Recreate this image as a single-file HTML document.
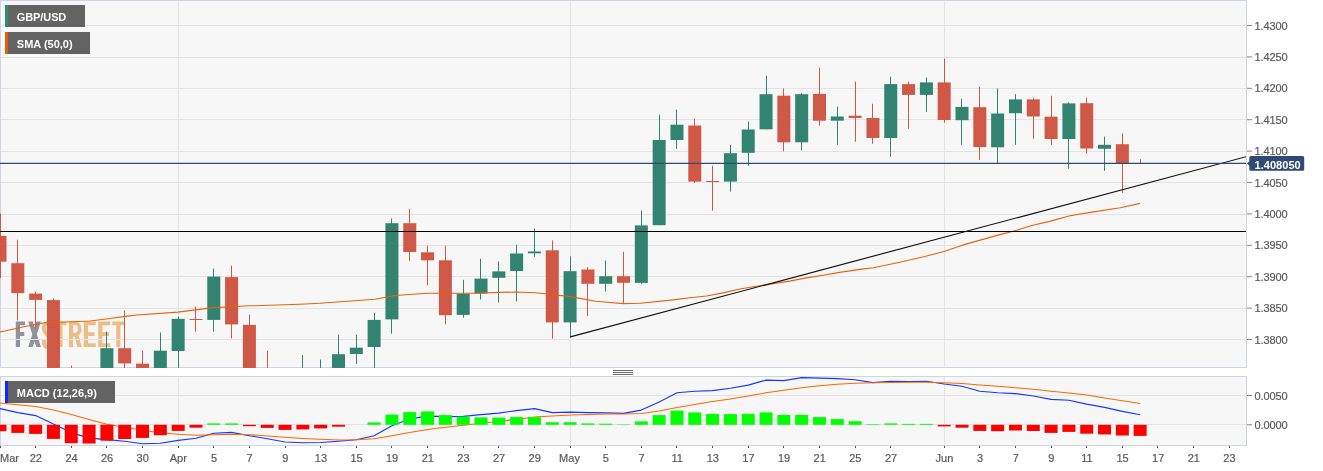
<!DOCTYPE html>
<html><head><meta charset="utf-8"><title>GBP/USD</title>
<style>html,body{margin:0;padding:0;background:#fff;}body{width:1323px;height:471px;overflow:hidden;font-family:"Liberation Sans",sans-serif;}svg{display:block;position:absolute;left:0;top:0;will-change:transform;transform:translateZ(0)}text{font-family:"Liberation Sans",sans-serif;}</style></head><body>
<svg width="1323" height="471" viewBox="0 0 1323 471">
<defs><clipPath id="cm"><rect x="0" y="1" width="1246" height="367"/></clipPath><clipPath id="cd"><rect x="0" y="377" width="1246" height="68"/></clipPath></defs>
<rect x="0" y="0" width="1323" height="471" fill="#fff"/>
<rect x="0.5" y="0.5" width="1246" height="367" fill="#f7f7f7" stroke="#cfd5e7" stroke-width="1"/>
<rect x="0.5" y="376.5" width="1246" height="69" fill="#f7f7f7" stroke="#cfd5e7" stroke-width="1"/>
<path d="M15.8 321.5H25.0V325.3H20.0V332.1H24.3V335.90000000000003H20.0V347.1H15.8ZM28.2 321.5H32.7L40.9 347.1H36.4ZM36.4 321.5H40.9L32.7 347.1H28.2Z" fill="#90929c"/>
<path d="M54.6 321.5H66.2V325.3H62.5V347.1H58.3V325.3H54.6ZM83.8 321.5H95.8V325.3H88.0V332.3H94.6V336.1H88.0V343.3H95.8V347.1H83.8ZM98.2 321.5H110.2V325.3H102.4V332.3H109.0V336.1H102.4V343.3H110.2V347.1H98.2ZM112.3 321.5H124.3V325.3H120.39999999999999V347.1H116.2V325.3H112.3Z" fill="#eebd86"/>
<path d="M50.6 330.1V327.7a3.3000000000000007 4.2 0 0 0 -6.600000000000001 0v1.6c0 4.6 6.600000000000001 6.4 6.600000000000001 11.6v1.8a3.3000000000000007 4.2 0 0 1 -6.600000000000001 0v-2.6" fill="none" stroke="#eebd86" stroke-width="4.0"/>
<path d="M68.9 321.5h4.2V347.1h-4.2Z" fill="#eebd86"/>
<path d="M71.9 323.4h3.8a3.9 5.6 0 0 1 0 11.2h-3.8" fill="none" stroke="#eebd86" stroke-width="3.8"/>
<path d="M74.10000000000001 334.7h4.3L81.80000000000001 347.1h-4.4Z" fill="#eebd86"/>
<path d="M1 25.5H1246M1 57.5H1246M1 88.5H1246M1 119.5H1246M1 151.5H1246M1 182.5H1246M1 214.5H1246M1 245.5H1246M1 276.5H1246M1 308.5H1246M1 339.5H1246M1 395.5H1246M1 424.5H1246M178.5 1V367M178.5 377V445M570.5 1V367M570.5 377V445M944.5 1V367M944.5 377V445" stroke="#e3e3e3" stroke-width="1" fill="none" shape-rendering="crispEdges"/>
<g clip-path="url(#cm)">
<rect x="0" y="213.60" width="1" height="64.40" fill="#d05847"/>
<rect x="-6.50" y="235.90" width="13" height="25.80" fill="#d05847"/>
<rect x="17" y="239.70" width="1" height="80.70" fill="#d05847"/>
<rect x="11.32" y="263.20" width="13" height="29.90" fill="#d05847"/>
<rect x="35" y="291.60" width="1" height="37.20" fill="#d05847"/>
<rect x="29.13" y="293.60" width="13" height="6.30" fill="#d05847"/>
<rect x="53" y="298.60" width="1" height="101.70" fill="#d05847"/>
<rect x="46.95" y="300.10" width="13" height="100.20" fill="#d05847"/>
<rect x="71" y="365.50" width="1" height="34.80" fill="#d05847"/>
<rect x="64.76" y="380.30" width="13" height="20.00" fill="#d05847"/>
<rect x="106" y="331.70" width="1" height="68.60" fill="#32836f"/>
<rect x="100.39" y="348.20" width="13" height="52.10" fill="#32836f"/>
<rect x="124" y="310.40" width="1" height="89.90" fill="#d05847"/>
<rect x="118.21" y="348.20" width="13" height="15.20" fill="#d05847"/>
<rect x="142" y="350.70" width="1" height="49.60" fill="#d05847"/>
<rect x="136.02" y="363.70" width="13" height="36.60" fill="#d05847"/>
<rect x="160" y="332.40" width="1" height="67.90" fill="#32836f"/>
<rect x="153.84" y="350.70" width="13" height="49.60" fill="#32836f"/>
<rect x="178" y="316.70" width="1" height="83.60" fill="#32836f"/>
<rect x="171.65" y="318.90" width="13" height="32.10" fill="#32836f"/>
<rect x="195" y="306.60" width="1" height="25.10" fill="#d05847"/>
<rect x="189.47" y="319.00" width="13" height="1.00" fill="#d05847"/>
<rect x="213" y="268.50" width="1" height="63.20" fill="#32836f"/>
<rect x="207.28" y="276.60" width="13" height="43.30" fill="#32836f"/>
<rect x="231" y="265.50" width="1" height="73.00" fill="#d05847"/>
<rect x="225.10" y="277.10" width="13" height="47.30" fill="#d05847"/>
<rect x="249" y="314.60" width="1" height="85.70" fill="#d05847"/>
<rect x="242.91" y="324.90" width="13" height="75.40" fill="#d05847"/>
<rect x="267" y="350.70" width="1" height="49.60" fill="#d05847"/>
<rect x="260.73" y="380.30" width="13" height="20.00" fill="#d05847"/>
<rect x="302" y="355.00" width="1" height="45.30" fill="#32836f"/>
<rect x="296.36" y="380.30" width="13" height="20.00" fill="#32836f"/>
<rect x="320" y="359.50" width="1" height="40.80" fill="#32836f"/>
<rect x="314.17" y="380.30" width="13" height="20.00" fill="#32836f"/>
<rect x="338" y="334.70" width="1" height="65.60" fill="#32836f"/>
<rect x="331.99" y="354.20" width="13" height="46.10" fill="#32836f"/>
<rect x="356" y="334.70" width="1" height="29.10" fill="#32836f"/>
<rect x="349.80" y="347.70" width="13" height="6.30" fill="#32836f"/>
<rect x="374" y="312.90" width="1" height="87.40" fill="#32836f"/>
<rect x="367.62" y="319.90" width="13" height="27.10" fill="#32836f"/>
<rect x="391" y="218.40" width="1" height="115.30" fill="#32836f"/>
<rect x="385.43" y="223.20" width="13" height="96.20" fill="#32836f"/>
<rect x="409" y="208.70" width="1" height="52.10" fill="#d05847"/>
<rect x="403.25" y="223.20" width="13" height="28.80" fill="#d05847"/>
<rect x="427" y="245.70" width="1" height="39.60" fill="#d05847"/>
<rect x="421.06" y="252.30" width="13" height="8.00" fill="#d05847"/>
<rect x="445" y="245.70" width="1" height="78.70" fill="#d05847"/>
<rect x="438.88" y="260.30" width="13" height="54.90" fill="#d05847"/>
<rect x="463" y="279.80" width="1" height="37.90" fill="#32836f"/>
<rect x="456.69" y="293.90" width="13" height="21.00" fill="#32836f"/>
<rect x="480" y="258.80" width="1" height="40.80" fill="#32836f"/>
<rect x="474.51" y="278.60" width="13" height="15.00" fill="#32836f"/>
<rect x="498" y="261.50" width="1" height="41.10" fill="#32836f"/>
<rect x="492.32" y="271.40" width="13" height="6.40" fill="#32836f"/>
<rect x="516" y="244.70" width="1" height="56.90" fill="#32836f"/>
<rect x="510.13" y="253.50" width="13" height="17.55" fill="#32836f"/>
<rect x="534" y="228.50" width="1" height="28.30" fill="#32836f"/>
<rect x="527.95" y="251.50" width="13" height="1.80" fill="#32836f"/>
<rect x="552" y="240.50" width="1" height="98.20" fill="#d05847"/>
<rect x="545.76" y="250.30" width="13" height="72.10" fill="#d05847"/>
<rect x="570" y="256.30" width="1" height="81.20" fill="#32836f"/>
<rect x="563.58" y="271.20" width="13" height="51.20" fill="#32836f"/>
<rect x="587" y="267.30" width="1" height="48.60" fill="#d05847"/>
<rect x="581.40" y="269.50" width="13" height="14.30" fill="#d05847"/>
<rect x="605" y="260.50" width="1" height="31.10" fill="#32836f"/>
<rect x="599.21" y="276.20" width="13" height="7.60" fill="#32836f"/>
<rect x="623" y="251.80" width="1" height="51.80" fill="#d05847"/>
<rect x="617.03" y="276.20" width="13" height="6.60" fill="#d05847"/>
<rect x="641" y="210.50" width="1" height="73.40" fill="#32836f"/>
<rect x="634.84" y="225.40" width="13" height="57.50" fill="#32836f"/>
<rect x="659" y="114.70" width="1" height="110.50" fill="#32836f"/>
<rect x="652.66" y="140.00" width="13" height="85.20" fill="#32836f"/>
<rect x="676" y="109.70" width="1" height="39.10" fill="#32836f"/>
<rect x="670.47" y="124.70" width="13" height="15.30" fill="#32836f"/>
<rect x="694" y="118.70" width="1" height="64.20" fill="#d05847"/>
<rect x="688.29" y="125.50" width="13" height="56.10" fill="#d05847"/>
<rect x="712" y="165.80" width="1" height="44.90" fill="#d05847"/>
<rect x="706.10" y="181.00" width="13" height="1.00" fill="#d05847"/>
<rect x="730" y="144.80" width="1" height="46.80" fill="#32836f"/>
<rect x="723.92" y="153.20" width="13" height="28.40" fill="#32836f"/>
<rect x="748" y="121.70" width="1" height="44.10" fill="#32836f"/>
<rect x="741.73" y="129.50" width="13" height="23.30" fill="#32836f"/>
<rect x="766" y="75.60" width="1" height="53.70" fill="#32836f"/>
<rect x="759.55" y="94.20" width="13" height="35.10" fill="#32836f"/>
<rect x="783" y="88.40" width="1" height="62.90" fill="#d05847"/>
<rect x="777.36" y="95.70" width="13" height="46.60" fill="#d05847"/>
<rect x="801" y="93.20" width="1" height="57.30" fill="#32836f"/>
<rect x="795.18" y="94.20" width="13" height="48.10" fill="#32836f"/>
<rect x="819" y="67.60" width="1" height="58.10" fill="#d05847"/>
<rect x="812.99" y="93.90" width="13" height="26.80" fill="#d05847"/>
<rect x="837" y="106.70" width="1" height="38.10" fill="#32836f"/>
<rect x="830.81" y="116.50" width="13" height="4.20" fill="#32836f"/>
<rect x="855" y="81.60" width="1" height="60.20" fill="#d05847"/>
<rect x="848.62" y="115.70" width="13" height="2.30" fill="#d05847"/>
<rect x="872" y="103.70" width="1" height="40.10" fill="#d05847"/>
<rect x="866.44" y="118.00" width="13" height="20.00" fill="#d05847"/>
<rect x="890" y="76.60" width="1" height="80.10" fill="#32836f"/>
<rect x="884.25" y="84.10" width="13" height="53.90" fill="#32836f"/>
<rect x="908" y="81.60" width="1" height="47.10" fill="#d05847"/>
<rect x="902.07" y="84.10" width="13" height="10.80" fill="#d05847"/>
<rect x="926" y="77.60" width="1" height="34.40" fill="#32836f"/>
<rect x="919.88" y="82.40" width="13" height="12.50" fill="#32836f"/>
<rect x="944" y="58.60" width="1" height="64.10" fill="#d05847"/>
<rect x="937.70" y="82.40" width="13" height="37.60" fill="#d05847"/>
<rect x="961" y="98.70" width="1" height="46.10" fill="#32836f"/>
<rect x="955.51" y="106.90" width="13" height="13.30" fill="#32836f"/>
<rect x="979" y="86.70" width="1" height="73.20" fill="#d05847"/>
<rect x="973.33" y="107.20" width="13" height="39.80" fill="#d05847"/>
<rect x="997" y="88.40" width="1" height="74.50" fill="#32836f"/>
<rect x="991.14" y="113.50" width="13" height="33.80" fill="#32836f"/>
<rect x="1015" y="94.20" width="1" height="50.60" fill="#32836f"/>
<rect x="1008.96" y="99.40" width="13" height="13.80" fill="#32836f"/>
<rect x="1033" y="98.20" width="1" height="40.60" fill="#d05847"/>
<rect x="1026.77" y="99.40" width="13" height="17.10" fill="#d05847"/>
<rect x="1051" y="95.70" width="1" height="49.10" fill="#d05847"/>
<rect x="1044.59" y="116.70" width="13" height="22.30" fill="#d05847"/>
<rect x="1068" y="102.20" width="1" height="66.40" fill="#32836f"/>
<rect x="1062.40" y="103.40" width="13" height="35.60" fill="#32836f"/>
<rect x="1086" y="97.70" width="1" height="56.00" fill="#d05847"/>
<rect x="1080.22" y="103.20" width="13" height="45.30" fill="#d05847"/>
<rect x="1104" y="136.60" width="1" height="34.30" fill="#32836f"/>
<rect x="1098.03" y="144.80" width="13" height="4.00" fill="#32836f"/>
<rect x="1122" y="133.60" width="1" height="59.40" fill="#d05847"/>
<rect x="1115.85" y="144.20" width="13" height="19.20" fill="#d05847"/>
<rect x="1140" y="159.30" width="1" height="4.20" fill="#d05847"/>
<rect x="1133.66" y="163.10" width="13" height="0.50" fill="#d05847"/>
<polyline fill="none" stroke="#e8620c" stroke-width="1.1" stroke-linejoin="round" points="0,331.9 5,331 25,326.5 45,322.8 65,322 90,321 110,318.5 125,316.4 137,315 178,312.1 213,307.6 250,305.8 300,304.3 320,303.3 375,299.3 395,295.5 427.7,293.3 470,293.3 515.4,292 535.5,292.8 570.6,296.6 595.6,301.3 623.2,303.6 640,303.2 673.3,299.9 690,297.8 706.5,296 723,292.9 739.8,289 756.4,286.2 773,283.6 789.7,281.1 806.3,277.9 822.9,275.3 839.5,272.4 860,269.4 873.3,267.7 899.9,262.3 924.8,256.5 944.8,251.2 963.1,244.9 983,239.4 999.7,234.6 1012.1,231.5 1032.9,225.2 1049.5,221.4 1070,215.8 1090.3,212.4 1120.4,207.7 1140,203.4"/>
<path d="M0 231.5H1246" stroke="#000" stroke-width="1.15" fill="none"/>
<path d="M570.3 336.9L1246.5 156.6" stroke="#111" stroke-width="1.15" fill="none"/>
<path d="M0 163.4H1247" stroke="#2f4b73" stroke-width="1.2" fill="none"/>
</g>
<g clip-path="url(#cd)">
<polyline fill="none" stroke="#1636ff" stroke-width="1.1" stroke-linejoin="round" points="0.0,408.6 17.8,412.6 35.6,415.6 53.4,423.9 71.3,432.6 89.1,438.1 106.9,439.6 124.7,441.3 142.5,443.7 160.3,443.2 178.2,440.4 196.0,438.2 213.8,433.2 231.6,432.4 249.4,435.7 267.2,438.7 285.0,442 302.9,442.7 320.7,442.5 338.5,441.2 356.3,439.7 374.1,435.7 391.9,425.7 409.7,418.9 427.6,416.1 445.4,416.6 463.2,416.4 481.0,414.6 498.8,413.1 516.6,410.6 534.5,408.6 552.3,412.6 570.1,412.1 587.9,412.6 605.7,412.9 623.5,413.4 641.3,410.1 659.2,401.9 677.0,392.8 694.8,391.3 712.6,390.6 730.4,388.3 748.2,385.1 766.0,380.1 783.9,380.6 801.7,377.6 819.5,378.1 837.3,378.6 855.1,379.8 872.9,382.6 890.8,381.3 908.6,381.6 926.4,381.2 944.2,384 962.0,386.3 979.8,391.3 997.6,392.8 1015.5,393.6 1033.3,396 1051.1,399.4 1068.9,400.3 1086.7,404.1 1104.5,407.4 1122.3,411.4 1140.2,414.7"/>
<polyline fill="none" stroke="#ff6600" stroke-width="1.05" stroke-linejoin="round" points="0.0,402.9 17.8,404.7 35.6,406.6 53.4,410.1 71.3,414.6 89.1,419.6 106.9,424.2 124.7,427.2 142.5,430.2 160.3,432.7 178.2,434.2 196.0,435.2 213.8,434.7 231.6,434.2 249.4,434.7 267.2,435.9 285.0,437.2 302.9,438.4 320.7,439.2 338.5,439.9 356.3,439.7 374.1,438.7 391.9,435.7 409.7,432.4 427.6,429.4 445.4,427.2 463.2,425.2 481.0,423.2 498.8,421.4 516.6,419.4 534.5,417.1 552.3,416.1 570.1,415.1 587.9,414.6 605.7,414.1 623.5,413.9 641.3,413.4 659.2,411.1 677.0,407.4 694.8,404.4 712.6,401.6 730.4,398.9 748.2,396.1 766.0,392.8 783.9,390.3 801.7,387.8 819.5,385.8 837.3,384.3 855.1,383.3 872.9,382.8 890.8,382.6 908.6,382.3 926.4,382.2 944.2,382.8 962.0,383.5 979.8,385 997.6,386.3 1015.5,387.7 1033.3,389.3 1051.1,391.2 1068.9,392.9 1086.7,395.1 1104.5,397.9 1122.3,400.7 1140.2,403.4"/>
<rect x="-6.50" y="424.8" width="13" height="6.40" fill="#ff0000"/>
<rect x="11.32" y="424.8" width="13" height="8.10" fill="#ff0000"/>
<rect x="29.13" y="424.8" width="13" height="9.10" fill="#ff0000"/>
<rect x="46.95" y="424.8" width="13" height="14.10" fill="#ff0000"/>
<rect x="64.76" y="424.8" width="13" height="18.40" fill="#ff0000"/>
<rect x="82.58" y="424.8" width="13" height="18.70" fill="#ff0000"/>
<rect x="100.39" y="424.8" width="13" height="15.90" fill="#ff0000"/>
<rect x="118.21" y="424.8" width="13" height="14.20" fill="#ff0000"/>
<rect x="136.02" y="424.8" width="13" height="13.10" fill="#ff0000"/>
<rect x="153.84" y="424.8" width="13" height="10.40" fill="#ff0000"/>
<rect x="171.65" y="424.8" width="13" height="6.10" fill="#ff0000"/>
<rect x="189.47" y="424.8" width="13" height="2.90" fill="#ff0000"/>
<rect x="207.28" y="423.4" width="13" height="1.40" fill="#00ff00"/>
<rect x="225.10" y="423.4" width="13" height="1.40" fill="#00ff00"/>
<rect x="242.91" y="424.8" width="13" height="1.40" fill="#ff0000"/>
<rect x="260.73" y="424.8" width="13" height="3.10" fill="#ff0000"/>
<rect x="278.54" y="424.8" width="13" height="5.10" fill="#ff0000"/>
<rect x="296.36" y="424.8" width="13" height="4.60" fill="#ff0000"/>
<rect x="314.17" y="424.8" width="13" height="3.60" fill="#ff0000"/>
<rect x="331.99" y="424.8" width="13" height="1.90" fill="#ff0000"/>
<rect x="367.62" y="422.4" width="13" height="2.40" fill="#00ff00"/>
<rect x="385.43" y="414.6" width="13" height="10.20" fill="#00ff00"/>
<rect x="403.25" y="412.1" width="13" height="12.70" fill="#00ff00"/>
<rect x="421.06" y="411.4" width="13" height="13.40" fill="#00ff00"/>
<rect x="438.88" y="415.1" width="13" height="9.70" fill="#00ff00"/>
<rect x="456.69" y="416.6" width="13" height="8.20" fill="#00ff00"/>
<rect x="474.51" y="417.4" width="13" height="7.40" fill="#00ff00"/>
<rect x="492.32" y="417.6" width="13" height="7.20" fill="#00ff00"/>
<rect x="510.13" y="417.1" width="13" height="7.70" fill="#00ff00"/>
<rect x="527.95" y="417.1" width="13" height="7.70" fill="#00ff00"/>
<rect x="545.76" y="422.2" width="13" height="2.60" fill="#00ff00"/>
<rect x="563.58" y="422.2" width="13" height="2.60" fill="#00ff00"/>
<rect x="581.40" y="423.4" width="13" height="1.40" fill="#00ff00"/>
<rect x="599.21" y="423.7" width="13" height="1.10" fill="#00ff00"/>
<rect x="617.03" y="424.4" width="13" height="0.40" fill="#00ff00"/>
<rect x="634.84" y="421.4" width="13" height="3.40" fill="#00ff00"/>
<rect x="652.66" y="415.1" width="13" height="9.70" fill="#00ff00"/>
<rect x="670.47" y="410.6" width="13" height="14.20" fill="#00ff00"/>
<rect x="688.29" y="412.4" width="13" height="12.40" fill="#00ff00"/>
<rect x="706.10" y="413.9" width="13" height="10.90" fill="#00ff00"/>
<rect x="723.92" y="414.1" width="13" height="10.70" fill="#00ff00"/>
<rect x="741.73" y="413.9" width="13" height="10.90" fill="#00ff00"/>
<rect x="759.55" y="412.4" width="13" height="12.40" fill="#00ff00"/>
<rect x="777.36" y="414.9" width="13" height="9.90" fill="#00ff00"/>
<rect x="795.18" y="414.9" width="13" height="9.90" fill="#00ff00"/>
<rect x="812.99" y="417.1" width="13" height="7.70" fill="#00ff00"/>
<rect x="830.81" y="419.1" width="13" height="5.70" fill="#00ff00"/>
<rect x="848.62" y="421.2" width="13" height="3.60" fill="#00ff00"/>
<rect x="866.44" y="424.2" width="13" height="0.60" fill="#00ff00"/>
<rect x="884.25" y="423.4" width="13" height="1.40" fill="#00ff00"/>
<rect x="902.07" y="423.9" width="13" height="0.90" fill="#00ff00"/>
<rect x="919.88" y="423.9" width="13" height="0.90" fill="#00ff00"/>
<rect x="937.70" y="424.8" width="13" height="1.60" fill="#ff0000"/>
<rect x="955.51" y="424.8" width="13" height="2.90" fill="#ff0000"/>
<rect x="973.33" y="424.8" width="13" height="6.10" fill="#ff0000"/>
<rect x="991.14" y="424.8" width="13" height="6.40" fill="#ff0000"/>
<rect x="1008.96" y="424.8" width="13" height="5.70" fill="#ff0000"/>
<rect x="1026.77" y="424.8" width="13" height="6.20" fill="#ff0000"/>
<rect x="1044.59" y="424.8" width="13" height="8.10" fill="#ff0000"/>
<rect x="1062.40" y="424.8" width="13" height="7.10" fill="#ff0000"/>
<rect x="1080.22" y="424.8" width="13" height="8.90" fill="#ff0000"/>
<rect x="1098.03" y="424.8" width="13" height="9.60" fill="#ff0000"/>
<rect x="1115.85" y="424.8" width="13" height="10.70" fill="#ff0000"/>
<rect x="1133.66" y="424.8" width="13" height="11.10" fill="#ff0000"/>
</g>
<path d="M613 370.5H633M613 372.5H633M613 374.5H633" stroke="#666" stroke-width="1" fill="none" shape-rendering="crispEdges"/>
<path d="M1247 25.50H1252M1247 56.90H1252M1247 88.30H1252M1247 119.70H1252M1247 151.10H1252M1247 182.50H1252M1247 213.90H1252M1247 245.30H1252M1247 276.70H1252M1247 308.10H1252M1247 339.50H1252M1247 395.50H1252M1247 424.75H1252" stroke="#858585" stroke-width="1" fill="none"/>
<text x="1254.4" y="30" font-size="11" letter-spacing="-0.09" fill="#5a5a5a" stroke="#5a5a5a" stroke-width="0.2">1.4300</text>
<text x="1254.4" y="61" font-size="11" letter-spacing="-0.09" fill="#5a5a5a" stroke="#5a5a5a" stroke-width="0.2">1.4250</text>
<text x="1254.4" y="92" font-size="11" letter-spacing="-0.09" fill="#5a5a5a" stroke="#5a5a5a" stroke-width="0.2">1.4200</text>
<text x="1254.4" y="124" font-size="11" letter-spacing="-0.09" fill="#5a5a5a" stroke="#5a5a5a" stroke-width="0.2">1.4150</text>
<text x="1254.4" y="155" font-size="11" letter-spacing="-0.09" fill="#5a5a5a" stroke="#5a5a5a" stroke-width="0.2">1.4100</text>
<text x="1254.4" y="187" font-size="11" letter-spacing="-0.09" fill="#5a5a5a" stroke="#5a5a5a" stroke-width="0.2">1.4050</text>
<text x="1254.4" y="218" font-size="11" letter-spacing="-0.09" fill="#5a5a5a" stroke="#5a5a5a" stroke-width="0.2">1.4000</text>
<text x="1254.4" y="249" font-size="11" letter-spacing="-0.09" fill="#5a5a5a" stroke="#5a5a5a" stroke-width="0.2">1.3950</text>
<text x="1254.4" y="281" font-size="11" letter-spacing="-0.09" fill="#5a5a5a" stroke="#5a5a5a" stroke-width="0.2">1.3900</text>
<text x="1254.4" y="312" font-size="11" letter-spacing="-0.09" fill="#5a5a5a" stroke="#5a5a5a" stroke-width="0.2">1.3850</text>
<text x="1254.4" y="344" font-size="11" letter-spacing="-0.09" fill="#5a5a5a" stroke="#5a5a5a" stroke-width="0.2">1.3800</text>
<text x="1254.4" y="400" font-size="11" letter-spacing="-0.09" fill="#5a5a5a" stroke="#5a5a5a" stroke-width="0.2">0.0050</text>
<text x="1254.4" y="429" font-size="11" letter-spacing="-0.09" fill="#5a5a5a" stroke="#5a5a5a" stroke-width="0.2">0.0000</text>
<path d="M1247 163.4L1249.3 161.3V157.5q0-1.5 1.5-1.5H1302.7q1.5 0 1.5 1.5V169.3q0 1.5-1.5 1.5H1250.8q-1.5 0-1.5-1.5V165.5Z" fill="#2f4b73"/>
<text x="1254.5" y="169" font-size="11" font-weight="bold" letter-spacing="0.05" fill="#fff">1.408050</text>
<path d="M0.5 446V448M35.5 446V448M71.5 446V448M106.5 446V448M142.5 446V448M178.5 446V448M213.5 446V448M249.5 446V448M285.5 446V448M320.5 446V448M356.5 446V448M391.5 446V448M427.5 446V448M463.5 446V448M498.5 446V448M534.5 446V448M570.5 446V448M605.5 446V448M641.5 446V448M676.5 446V448M712.5 446V448M748.5 446V448M783.5 446V448M819.5 446V448M855.5 446V448M890.5 446V448M944.5 446V448M979.5 446V448M1015.5 446V448M1051.5 446V448M1086.5 446V448M1122.5 446V448M1157.5 446V448M1193.5 446V448M1229.5 446V448" stroke="#555" stroke-width="1" fill="none" shape-rendering="crispEdges"/>
<text x="0" y="462" font-size="11" fill="#5a5a5a" stroke="#5a5a5a" stroke-width="0.2">Mar</text>
<text x="35.8" y="462" font-size="11" fill="#5a5a5a" stroke="#5a5a5a" stroke-width="0.2" text-anchor="middle">22</text>
<text x="71.5" y="462" font-size="11" fill="#5a5a5a" stroke="#5a5a5a" stroke-width="0.2" text-anchor="middle">24</text>
<text x="107.1" y="462" font-size="11" fill="#5a5a5a" stroke="#5a5a5a" stroke-width="0.2" text-anchor="middle">26</text>
<text x="142.7" y="462" font-size="11" fill="#5a5a5a" stroke="#5a5a5a" stroke-width="0.2" text-anchor="middle">30</text>
<text x="178.3" y="462" font-size="11" fill="#5a5a5a" stroke="#5a5a5a" stroke-width="0.2" text-anchor="middle">Apr</text>
<text x="214.0" y="462" font-size="11" fill="#5a5a5a" stroke="#5a5a5a" stroke-width="0.2" text-anchor="middle">5</text>
<text x="249.6" y="462" font-size="11" fill="#5a5a5a" stroke="#5a5a5a" stroke-width="0.2" text-anchor="middle">7</text>
<text x="285.2" y="462" font-size="11" fill="#5a5a5a" stroke="#5a5a5a" stroke-width="0.2" text-anchor="middle">9</text>
<text x="320.9" y="462" font-size="11" fill="#5a5a5a" stroke="#5a5a5a" stroke-width="0.2" text-anchor="middle">13</text>
<text x="356.5" y="462" font-size="11" fill="#5a5a5a" stroke="#5a5a5a" stroke-width="0.2" text-anchor="middle">15</text>
<text x="392.1" y="462" font-size="11" fill="#5a5a5a" stroke="#5a5a5a" stroke-width="0.2" text-anchor="middle">19</text>
<text x="427.8" y="462" font-size="11" fill="#5a5a5a" stroke="#5a5a5a" stroke-width="0.2" text-anchor="middle">21</text>
<text x="463.4" y="462" font-size="11" fill="#5a5a5a" stroke="#5a5a5a" stroke-width="0.2" text-anchor="middle">23</text>
<text x="499.0" y="462" font-size="11" fill="#5a5a5a" stroke="#5a5a5a" stroke-width="0.2" text-anchor="middle">27</text>
<text x="534.7" y="462" font-size="11" fill="#5a5a5a" stroke="#5a5a5a" stroke-width="0.2" text-anchor="middle">29</text>
<text x="569.5" y="462" font-size="11" fill="#5a5a5a" stroke="#5a5a5a" stroke-width="0.2" text-anchor="middle">May</text>
<text x="605.9" y="462" font-size="11" fill="#5a5a5a" stroke="#5a5a5a" stroke-width="0.2" text-anchor="middle">5</text>
<text x="641.5" y="462" font-size="11" fill="#5a5a5a" stroke="#5a5a5a" stroke-width="0.2" text-anchor="middle">7</text>
<text x="677.2" y="462" font-size="11" fill="#5a5a5a" stroke="#5a5a5a" stroke-width="0.2" text-anchor="middle">11</text>
<text x="712.8" y="462" font-size="11" fill="#5a5a5a" stroke="#5a5a5a" stroke-width="0.2" text-anchor="middle">13</text>
<text x="748.4" y="462" font-size="11" fill="#5a5a5a" stroke="#5a5a5a" stroke-width="0.2" text-anchor="middle">17</text>
<text x="784.1" y="462" font-size="11" fill="#5a5a5a" stroke="#5a5a5a" stroke-width="0.2" text-anchor="middle">19</text>
<text x="819.7" y="462" font-size="11" fill="#5a5a5a" stroke="#5a5a5a" stroke-width="0.2" text-anchor="middle">21</text>
<text x="855.3" y="462" font-size="11" fill="#5a5a5a" stroke="#5a5a5a" stroke-width="0.2" text-anchor="middle">25</text>
<text x="891.0" y="462" font-size="11" fill="#5a5a5a" stroke="#5a5a5a" stroke-width="0.2" text-anchor="middle">27</text>
<text x="944.4" y="462" font-size="11" fill="#5a5a5a" stroke="#5a5a5a" stroke-width="0.2" text-anchor="middle">Jun</text>
<text x="980.0" y="462" font-size="11" fill="#5a5a5a" stroke="#5a5a5a" stroke-width="0.2" text-anchor="middle">3</text>
<text x="1015.7" y="462" font-size="11" fill="#5a5a5a" stroke="#5a5a5a" stroke-width="0.2" text-anchor="middle">7</text>
<text x="1051.3" y="462" font-size="11" fill="#5a5a5a" stroke="#5a5a5a" stroke-width="0.2" text-anchor="middle">9</text>
<text x="1086.9" y="462" font-size="11" fill="#5a5a5a" stroke="#5a5a5a" stroke-width="0.2" text-anchor="middle">11</text>
<text x="1122.5" y="462" font-size="11" fill="#5a5a5a" stroke="#5a5a5a" stroke-width="0.2" text-anchor="middle">15</text>
<text x="1158.2" y="462" font-size="11" fill="#5a5a5a" stroke="#5a5a5a" stroke-width="0.2" text-anchor="middle">17</text>
<text x="1193.8" y="462" font-size="11" fill="#5a5a5a" stroke="#5a5a5a" stroke-width="0.2" text-anchor="middle">21</text>
<text x="1229.4" y="462" font-size="11" fill="#5a5a5a" stroke="#5a5a5a" stroke-width="0.2" text-anchor="middle">23</text>
<rect x="5" y="5" width="80" height="22" fill="#636363"/>
<rect x="5" y="5" width="3" height="22" fill="#2e8b75"/>
<text x="16.8" y="21" font-size="11" font-weight="bold" letter-spacing="-0.1" fill="#fff">GBP/USD</text>
<rect x="5" y="32" width="85" height="22" fill="#636363"/>
<rect x="5" y="32" width="3" height="22" fill="#e65c00"/>
<text x="16.8" y="48" font-size="11" font-weight="bold" letter-spacing="0" fill="#fff">SMA (50,0)</text>
<rect x="5" y="381" width="110" height="22" fill="#636363"/>
<rect x="5" y="381" width="3" height="22" fill="#0a2bff"/>
<text x="16.8" y="397" font-size="11" font-weight="bold" letter-spacing="0" fill="#fff">MACD (12,26,9)</text>
</svg></body></html>
